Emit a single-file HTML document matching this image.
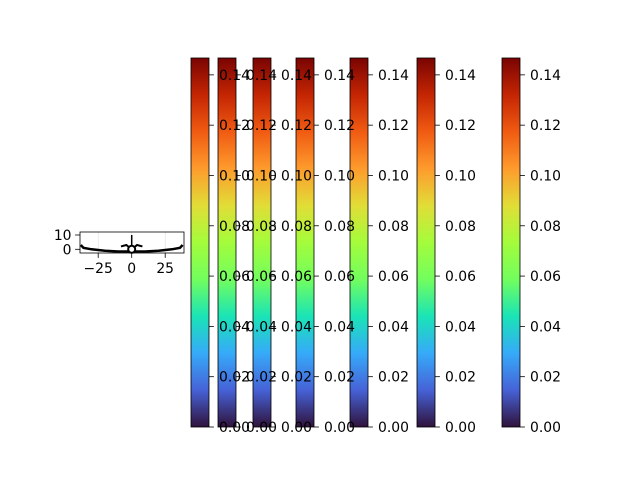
<!DOCTYPE html>
<html><head><meta charset="utf-8"><style>
html,body{margin:0;padding:0;background:#fff}
svg{display:block;font-family:"DejaVu Sans","Liberation Sans",sans-serif}
</style></head><body>
<svg id="fig" width="640" height="480" viewBox="0 0 640 480">
<defs>
<linearGradient id="turbo" x1="0" y1="1" x2="0" y2="0">
<stop offset="0" stop-color="#30123b"/><stop offset="0.1" stop-color="#4662d7"/>
<stop offset="0.2" stop-color="#36aaf9"/><stop offset="0.3" stop-color="#1ae4b6"/>
<stop offset="0.4" stop-color="#72fe5e"/><stop offset="0.5" stop-color="#a4fc3b"/>
<stop offset="0.6" stop-color="#e1dd37"/><stop offset="0.7" stop-color="#fe9b2d"/>
<stop offset="0.8" stop-color="#f05b12"/><stop offset="0.9" stop-color="#c42503"/>
<stop offset="1" stop-color="#7a0403"/>
</linearGradient>
</defs>
<g id="cbars"></g>
<g id="cblabels"></g>
<g id="small"></g>
</svg>
<script>
const cbTicks = [0, 0.02, 0.04, 0.06, 0.08, 0.10, 0.12, 0.14];
const cbTickLabels = ["0.00","0.02","0.04","0.06","0.08","0.10","0.12","0.14"];
const cbMax = 0.1467;
const cbLefts = [191, 218, 253, 296, 350, 417, 502];
const curveX = [-38,-36,-30,-20,-10,-5,0,5,10,20,30,36,38];
const curveY = [3,1,0,-1,-1.5,-1.5,-1.5,-1.5,-1.5,-1,0,1,3];
const crossX = [-8,-4,0,4,8];
const crossY = [2,3,0,3,2];
const xTicks = [-25, 0, 25];
const yTicks = [0, 10];
const NS="http://www.w3.org/2000/svg";
const FS=13.9;
function mk(t,a,p){const e=document.createElementNS(NS,t);for(const k in a)e.setAttribute(k,a[k]);p.appendChild(e);return e;}
const cbG=document.getElementById('cbars');
const lbG=document.getElementById('cblabels');
const cbTop=58,cbBot=427,cbW=18;
const cy=v=>cbBot-v/cbMax*(cbBot-cbTop);
cbLefts.forEach((x,i)=>{
  const g=mk('g',{},cbG);
  
  
  mk('rect',{x:x,y:cbTop,width:cbW,height:cbBot-cbTop,fill:'url(#turbo)',stroke:'#000','stroke-width':0.8},g);
  cbTicks.forEach((v,j)=>{
    const y=cy(v);
    mk('line',{x1:x+cbW,x2:x+cbW+4.9,y1:y,y2:y,stroke:'#000','stroke-width':0.8},lbG);
    const t=mk('text',{x:x+cbW+10,y:y+5,'font-size':FS,fill:'#000'},lbG);
    
    
    t.textContent=cbTickLabels[j];
  });
});
const sG=document.getElementById('small');
const aL=80,aR=184,aT=232,aB=253;
const sx=v=>131.7+v*1.34, sy=v=>249.3-v*1.43;
mk('rect',{x:aL,y:aT,width:aR-aL,height:aB-aT,fill:'#fff'},sG);
xTicks.forEach(v=>mk('line',{x1:sx(v),x2:sx(v),y1:aT,y2:aB,stroke:'#ddd','stroke-width':0.6},sG));
mk('polyline',{points:curveX.map((v,i)=>sx(v)+','+sy(curveY[i])).join(' '),fill:'none',stroke:'#000','stroke-width':2.5},sG);
mk('polyline',{points:crossX.map((v,i)=>sx(v)+','+sy(crossY[i])).join(' '),fill:'none',stroke:'#000','stroke-width':2},sG);
mk('line',{x1:sx(0),x2:sx(0),y1:sy(10),y2:sy(-2),stroke:'#000','stroke-width':1.5},sG);
mk('circle',{cx:sx(0),cy:sy(0),r:3.5,fill:'#fff',stroke:'#000','stroke-width':2},sG);
mk('rect',{x:aL,y:aT,width:aR-aL,height:aB-aT,fill:'none',stroke:'#000','stroke-width':0.8},sG);
xTicks.forEach(v=>{
  mk('line',{x1:sx(v),x2:sx(v),y1:aB,y2:aB+4.9,stroke:'#000','stroke-width':0.8},sG);
  const t=mk('text',{x:sx(v),y:aB+20,'font-size':FS,'text-anchor':'middle'},sG);
  
  
  t.textContent=v<0?'\u2212'+(-v):v;
});
yTicks.forEach(v=>{
  mk('line',{x1:aL-4.9,x2:aL,y1:sy(v),y2:sy(v),stroke:'#000','stroke-width':0.8},sG);
  const t=mk('text',{x:aL-8.5,y:sy(v)+5,'font-size':FS,'text-anchor':'end'},sG);
  
  
  t.textContent=v;
});
</script>
</body></html>
